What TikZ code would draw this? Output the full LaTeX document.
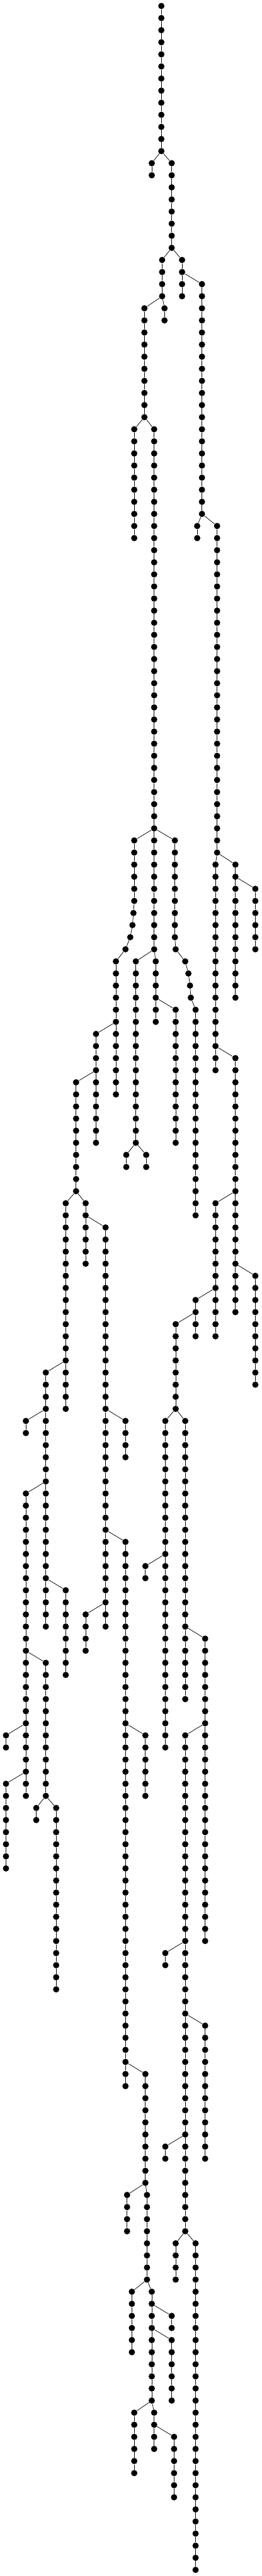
\documentclass[tikz,border=0pt]{standalone}
\begin{document}
\begin{tikzpicture}[x=0.3333pt, y=-20.267pt, line width=0.8pt,
  bead/.style={circle, fill=black, inner sep=0pt, minimum size=10.5pt}]

\useasboundingbox (0,-0.4934) rectangle (1314,212.51);

\foreach \r in {0,...,12}
  \node [bead] (v-810-\r) at (810,\r) {};
\foreach \r in {1,...,12} {
  \pgfmathtruncatemacro\q{\r-1}
  \draw (v-810-\q) -- (v-810-\r);
}

% column/first row/last row/parent
\foreach \x/\a/\b/\p in {762/13/14/v-810-12, 862/13/20/v-810-12,
  814/21/24/v-862-20, 914/21/24/v-862-20,
  1014/23/42/v-914-22, 725/25/34/v-814-24, 826/25/26/v-814-24,
  674/35/44/v-725-34, 774/35/78/v-725-34,
  990/43/44/v-1014-42, 1090/43/70/v-1014-42,
  674/69/74/v-774-68, 670/75/75/v-674-74, 665/76/76/v-670-75,
  654/77/77/v-665-76, 630/78/78/v-654-77, 582/79/90/v-630-78,
  482/85/94/v-582-84, 382/89/98/v-482-88,
  330/99/116/v-382-98, 430/99/104/v-382-98,
  530/101/134/v-430-100, 630/117/120/v-530-116,
  630/127/172/v-530-126, 430/133/136/v-530-132,
  230/113/134/v-330-112, 130/117/118/v-230-116,
  130/123/148/v-230-122, 330/131/138/v-230-130,
  230/137/148/v-130-136, 30/143/144/v-130-142, 30/147/154/v-130-146,
  182/149/150/v-230-148, 282/149/164/v-230-148,
  682/79/94/v-774-78, 782/79/84/v-774-78, 882/83/94/v-782-82,
  634/95/96/v-682-94, 734/95/96/v-682-94,
  878/69/77/v-774-68, 882/78/78/v-878-77, 930/79/79/v-882-78,
  946/80/80/v-930-79, 954/81/81/v-946-80, 958/82/82/v-954-81,
  982/83/100/v-958-82,
  1082/71/88/v-1090-70, 1182/71/82/v-1090-70, 1282/73/78/v-1182-72,
  1182/87/108/v-1082-86, 1082/99/110/v-1182-98, 1282/105/114/v-1182-104,
  982/107/110/v-1082-106, 882/109/116/v-982-108,
  830/117/144/v-882-116, 930/117/140/v-882-116, 730/129/130/v-830-128,
  1030/135/160/v-930-134, 930/143/184/v-1030-142,
  830/161/162/v-930-160, 1030/167/178/v-930-166, 830/177/178/v-930-176,
  882/185/188/v-930-184, 982/185/212/v-930-184,
  730/143/148/v-630-142, 730/171/180/v-630-170,
  638/181/184/v-730-180, 738/181/188/v-730-180,
  662/189/194/v-738-188, 762/189/198/v-738-188,
  862/191/192/v-762-190, 862/193/198/v-762-192,
  674/199/204/v-762-198, 774/199/202/v-762-198, 874/201/206/v-774-200} {
  \foreach \r in {\a,...,\b}
    \node [bead] (v-\x-\r) at (\x,\r) {};
  \draw (\p) -- (v-\x-\a);
  \foreach \r in {\a,...,\b} {
    \ifnum\r>\a
      \pgfmathtruncatemacro\q{\r-1}
      \draw (v-\x-\q) -- (v-\x-\r);
    \fi
  }
}

\end{tikzpicture}
\end{document}
